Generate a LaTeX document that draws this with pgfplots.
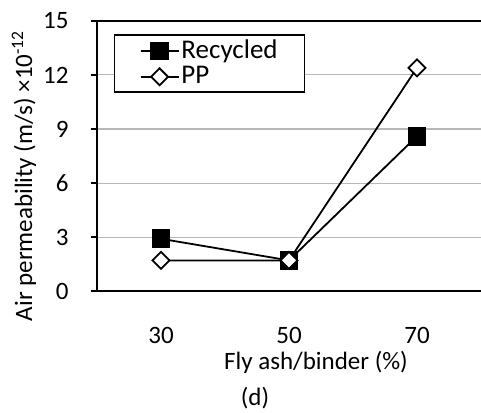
\documentclass[border=0pt]{standalone}
\usepackage{pgfplots}
\pgfplotsset{compat=1.18}
\usepackage{fontspec}
\setmainfont{Carlito}
\begin{document}
\fontsize{25}{30}\selectfont
\begin{tikzpicture}
\begin{axis}[
  at={(0,0)}, anchor=south west,
  scale only axis, width=384pt, height=270pt,
  xmin=0.5, xmax=3.5, ymin=0, ymax=15,
  axis x line*=bottom, axis y line*=left,
  axis line style={line width=2pt,-},
  ytick={0,3,...,15},
  ymajorgrids, grid style={black!28, line width=1pt},
  xtick={1,2,3}, xticklabels={30,50,70},
  major x tick style={draw=none},
  extra x ticks={0.5,1.5,2.5,3.5}, extra x tick labels={},
  extra x tick style={major tick length=7pt, tick style={draw=black,line width=2pt}, grid=none},
  tick align=outside,
  major tick length=6pt,
  y tick style={line width=2pt, black},
  tick label style={font=\fontsize{25}{30}\selectfont},
  xticklabel style={yshift=-22pt},
  yticklabel style={xshift=-14pt},
  /pgf/number format/assume math mode=true,
  legend style={at={(0.044,0.95)}, anchor=north west, draw=black, line width=1.6pt,
    fill=white,
    font=\fontsize{27}{30}\selectfont, inner xsep=25pt, inner ysep=2.5pt, row sep=0pt,
    cells={anchor=west}},
  legend cell align=left,
  legend image code/.code={\draw[mark repeat=2,mark phase=2,#1] plot coordinates {(0pt,0pt) (19pt,0pt) (38pt,0pt)};},
  clip=false,
]
\addplot[black, line width=1.8pt, mark=square*, mark size=8.5pt, mark options={solid, fill=black}]
  coordinates {(1,2.9) (2,1.7) (3,8.6)};
\addlegendentry{Recycled}
\addplot[black, line width=1.8pt, mark=square*, mark size=6pt, mark options={solid, fill=white, rotate=45}]
  coordinates {(1,1.7) (2,1.7) (3,12.4)};
\addlegendentry{PP}
\draw[line width=2pt] (rel axis cs:0,1) -- (rel axis cs:1,1);
\end{axis}
\node at (219pt,-71pt) {Fly ash/binder (\%)};
\node at (158pt,-107pt) {(d)};
\node[rotate=90] at (-73pt,115pt) {Air permeability (m/s) ×10\textsuperscript{-12}};
\pgfresetboundingbox
\useasboundingbox (-97pt,-121pt) rectangle (384pt,291pt);
\end{tikzpicture}
\end{document}
